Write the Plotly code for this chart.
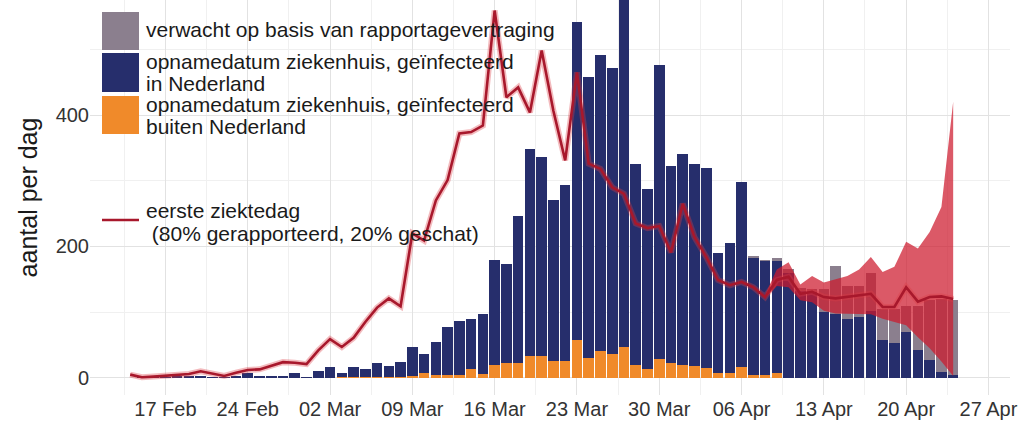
import pandas as pd
import plotly.graph_objects as go

# ---------------- data ----------------
bar_dates = pd.date_range("2020-02-15", "2020-04-24", freq="D")

buiten_nl = [0]*15 + [0, 0, 1, 1, 1, 2, 2, 2, 3, 7, 5, 4, 5, 13, 6, 20, 23, 23, 33, 33, 25, 26,
                      57, 30, 41, 37, 47, 20, 14, 29, 22,
                      19, 18, 15, 8, 8, 17, 4, 4, 8] + [0]*15

in_nl = [1, 1, 1, 2, 2, 2, 1, 1, 2, 7, 3, 3, 3, 7, 1,
         11, 16, 6, 16, 13, 21, 16, 22, 44, 30, 50, 74, 82, 77, 91, 159, 151, 223, 316, 303, 245,
         268, 484, 428, 451, 435, 533, 306, 273, 447, 301,
         321, 308, 304, 182, 197, 281, 179, 174, 170, 160, 133, 130, 100, 98, 90, 93, 102,
         57, 53, 70, 42, 28, 9, 4]

verwacht = [0]*52 + [2, 1, 5, 6, 4, 6, 36, 73, 50, 47, 57, 48, 52, 40, 68, 90, 111, 114]

line_dates = pd.date_range("2020-02-14", "2020-04-24", freq="D")
ziektedag = [5, 1, 2, 3, 4, 6, 10, 7, 3, 8, 12, 13, 18, 24, 23, 21,
             42, 59, 47, 61, 85, 107, 121, 109, 220, 209, 270, 301, 372, 374, 384, 559, 427, 442,
             404, 498, 406, 331, 465, 326, 318, 290, 280, 235, 228, 231, 191,
             265, 214, 184, 149, 141, 146, 138, 123, 149, 154, 128, 131, 123, 121, 123, 126, 128,
             108, 108, 138, 116, 123, 124, 120]

band_dates = pd.date_range("2020-04-08", "2020-04-24", freq="D")
band_upper = [126, 165, 176, 142, 155, 145, 150, 155, 165, 184, 161, 169, 207, 197, 222, 260, 420]
band_lower = [121, 140, 138, 118, 115, 102, 98, 98, 97, 97, 90, 85, 80, 62, 45, 25, 3]

tick_dates = pd.date_range("2020-02-17", "2020-04-27", freq="7D")
tick_text = ["17 Feb", "24 Feb", "02 Mar", "09 Mar", "16 Mar", "23 Mar",
             "30 Mar", "06 Apr", "13 Apr", "20 Apr", "27 Apr"]
minor_x = pd.date_range("2020-02-13 12:00", "2020-04-30", freq="7D")

legend_lines = [["verwacht op basis van rapportagevertraging"],
                ["opnamedatum ziekenhuis, geïnfecteerd", "in Nederland"],
                ["opnamedatum ziekenhuis, geïnfecteerd", "buiten Nederland"],
                ["eerste ziektedag", "\u00a0(80% gerapporteerd, 20% geschat)"]]
y_title = "aantal per dag"

# ---------------- style ----------------
C_ORANGE = "#F08A2A"
C_NAVY = "#262E6C"
C_GRAY = "#8B7F8E"
C_LINE = "#A8182C"
C_BAND = "rgba(205,25,45,0.72)"
FONT = "Liberation Sans, Arial, Helvetica, sans-serif"
BAR_W = 0.9 * 86400000

fig = go.Figure()
fig.add_bar(x=bar_dates, y=buiten_nl, marker=dict(color=C_ORANGE, line=dict(width=0)),
            width=BAR_W, name="buiten", showlegend=False)
fig.add_bar(x=bar_dates, y=in_nl, marker=dict(color=C_NAVY, line=dict(width=0)),
            width=BAR_W, name="in", showlegend=False)
fig.add_bar(x=bar_dates, y=verwacht, marker=dict(color=C_GRAY, line=dict(width=0)),
            width=BAR_W, name="verwacht", showlegend=False)

fig.add_scatter(x=band_dates, y=band_lower, mode="lines", line=dict(width=0, color=C_BAND),
                showlegend=False, hoverinfo="skip")
fig.add_scatter(x=band_dates, y=band_upper, mode="lines", line=dict(width=0, color=C_BAND),
                fill="tonexty", fillcolor=C_BAND, showlegend=False, hoverinfo="skip")
fig.add_scatter(x=line_dates, y=ziektedag, mode="lines",
                line=dict(color="rgba(220,60,70,0.35)", width=6), showlegend=False, hoverinfo="skip")
fig.add_scatter(x=line_dates, y=ziektedag, mode="lines", line=dict(color=C_LINE, width=2.6),
                showlegend=False)

# ---------------- manual legend (paper coords) ----------------
L, R_, T, B = 90, 9, 0, 33
W, H = 1019, 428
pw, ph = W - L - R_, H - T - B
def px(x):
    return (x - L) / pw
def py(y):
    return (H - B - y) / ph

swatches = [(C_GRAY, 12, 50), (C_NAVY, 53, 92), (C_ORANGE, 96, 134)]
shapes = []
for col, y0, y1 in swatches:
    shapes.append(dict(type="rect", xref="paper", yref="paper", x0=px(102), x1=px(139),
                       y0=py(y1), y1=py(y0), fillcolor=col, line=dict(width=0), layer="above"))
shapes.append(dict(type="line", xref="paper", yref="paper", x0=px(102), x1=px(139),
                   y0=py(220), y1=py(220), line=dict(color=C_LINE, width=2.6), layer="above"))

line_pos = [[30], [62, 83], [105, 126], [211, 233]]
annotations = []
for lines, ys in zip(legend_lines, line_pos):
    for txt, yc in zip(lines, ys):
        annotations.append(dict(text=txt, xref="paper", yref="paper", x=px(144), y=py(yc),
                                xanchor="left", yanchor="middle", align="left", showarrow=False,
                                font=dict(family=FONT, size=21, color="#1a1a1a")))

fig.update_layout(
    width=W, height=H, barmode="stack", bargap=0,
    margin=dict(l=L, r=R_, t=T, b=B, autoexpand=False),
    paper_bgcolor="white", plot_bgcolor="white",
    font=dict(family=FONT, size=20, color="#333333"),
    shapes=shapes, annotations=annotations, showlegend=False,
)
fig.update_xaxes(type="date", range=["2020-02-10 14:00", "2020-04-28 20:00"],
                 tickvals=tick_dates, ticktext=tick_text, showgrid=True, gridcolor="#E2E2E2",
                 gridwidth=1, zeroline=False, showline=False, ticks="", automargin=False,
                 tickfont=dict(size=20, color="#333333"),
                 minor=dict(tickvals=minor_x, showgrid=True, gridcolor="#F0F0F0", gridwidth=0.6))
fig.update_yaxes(range=[-26, 575], tickvals=[0, 200, 400], ticktext=["0", "200", "400"],
                 showgrid=True, gridcolor="#E2E2E2", gridwidth=1, zeroline=False, ticks="",
                 automargin=False, tickfont=dict(size=20, color="#333333"),
                 minor=dict(tickvals=[100, 300, 500], showgrid=True, gridcolor="#F0F0F0",
                            gridwidth=0.6),
                 title=dict(text=y_title, font=dict(size=25, color="#1a1a1a"), standoff=10))

fig.write_html("out.html", config={"displayModeBar": False},
               post_script="document.body.style.margin='0';")
